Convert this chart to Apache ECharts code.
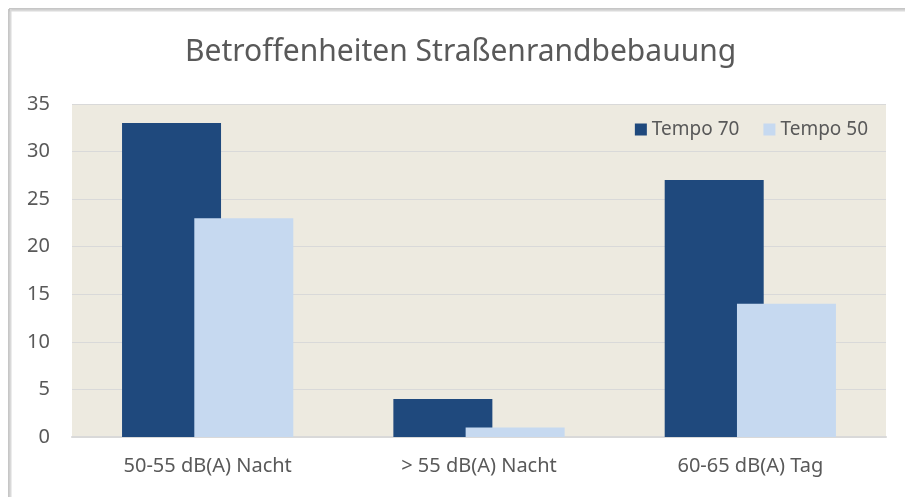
<!DOCTYPE html>
<html>
<head>
<meta charset="utf-8">
<script src="https://cdn.jsdelivr.net/npm/echarts@6/dist/echarts.min.js"></script>
<style>
  html, body { margin: 0; padding: 0; background: #fff; }
  #chart { width: 905px; height: 497px; }
</style>
</head>
<body>
<div id="chart"></div>
<script>
  // Kategorien und Werte
  const categories = ['50-55 dB(A) Nacht', '> 55 dB(A) Nacht', '60-65 dB(A) Tag'];
  const tempo70 = [33, 4, 27];
  const tempo50 = [23, 1, 14];
  const yTicks = [0, 5, 10, 15, 20, 25, 30, 35];

  const font = '"Noto Sans", "Open Sans", sans-serif';
  const chart = echarts.init(document.getElementById('chart'));

  chart.setOption({
    backgroundColor: '#ffffff',
    textStyle: { fontFamily: font },
    title: {
      text: 'Betroffenheiten Straßenrandbebauung',
      left: 180,
      top: 32,
      textStyle: { fontSize: 30, fontWeight: 'normal', color: '#595959', fontFamily: font }
    },
    // Rahmen oben/links
    graphic: [
      { type: 'line', shape: { x1: 9, y1: 9, x2: 905, y2: 9 }, style: { stroke: '#8c8c8c', lineWidth: 1 } },
      { type: 'line', shape: { x1: 9, y1: 10.5, x2: 905, y2: 10.5 }, style: { stroke: '#d9d9d9', lineWidth: 2 } },
      { type: 'line', shape: { x1: 9, y1: 9, x2: 9, y2: 497 }, style: { stroke: '#8c8c8c', lineWidth: 1 } },
      { type: 'line', shape: { x1: 10.5, y1: 9, x2: 10.5, y2: 497 }, style: { stroke: '#d9d9d9', lineWidth: 2 } }
    ],
    legend: {
      right: 32,
      top: 115,
      itemWidth: 12,
      itemHeight: 12,
      itemGap: 24,
      icon: 'rect',
      textStyle: { fontSize: 19, color: '#595959', fontFamily: font },
      data: ['Tempo 70', 'Tempo 50']
    },
    grid: {
      left: 72,
      right: 19,
      top: 104,
      bottom: 60,
      show: true,
      backgroundColor: '#edeae0',
      borderWidth: 0
    },
    xAxis: {
      type: 'category',
      data: categories,
      axisLine: { lineStyle: { color: '#d9d9d9', width: 2 } },
      axisTick: { show: false },
      axisLabel: { fontSize: 20, color: '#595959', margin: 19, fontFamily: font }
    },
    yAxis: {
      type: 'value',
      min: yTicks[0],
      max: yTicks[yTicks.length - 1],
      interval: 5,
      axisLine: { show: false },
      axisTick: { show: false },
      axisLabel: { fontSize: 20, color: '#595959', margin: 22, fontFamily: font },
      splitLine: { lineStyle: { color: '#d9d9d9', width: 1 } }
    },
    series: [
      {
        name: 'Tempo 70',
        type: 'bar',
        data: tempo70,
        barWidth: 99,
        barGap: '-27%',
        itemStyle: { color: '#1f497d' }
      },
      {
        name: 'Tempo 50',
        type: 'bar',
        data: tempo50,
        barWidth: 99,
        itemStyle: { color: '#c6d9f0' }
      }
    ]
  });
</script>
</body>
</html>
